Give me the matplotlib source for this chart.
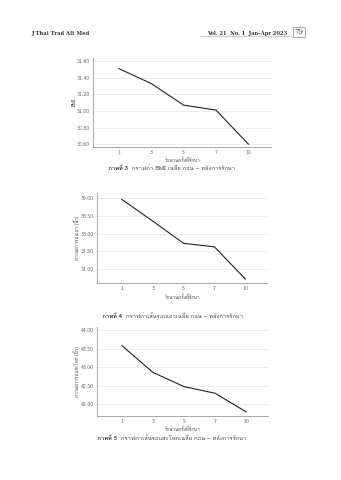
import matplotlib
matplotlib.use("Agg")
import matplotlib.pyplot as plt
from matplotlib import font_manager
from matplotlib.ft2font import FT2Font

# ---------------- data ----------------
sessions = ["1", "3", "5", "7", "10"]
bmi = [31.51, 31.33, 31.07, 31.01, 30.60]
waist = [38.97, 38.36, 37.73, 37.63, 36.72]
hip = [43.58, 42.86, 42.48, 42.30, 41.80]

bmi_ticks = [30.60, 30.80, 31.00, 31.20, 31.40, 31.60]
waist_ticks = [37.00, 37.50, 38.00, 38.50, 39.00]
hip_ticks = [42.00, 42.50, 43.00, 43.50, 44.00]

xlabel = "จำนวนครั้งที่รักษา"
ylabels = ["BMI", "ความยาวรอบเอว (นิ้ว)", "ความยาวรอบสะโพก (นิ้ว)"]
captions = [("ภาพที่ 3", "กราฟค่า BMI เฉลี่ย ก่อน – หลังการรักษา"),
            ("ภาพที่ 4", "กราฟค่าเส้นรอบเอวเฉลี่ย ก่อน – หลังการรักษา"),
            ("ภาพที่ 5", "กราฟค่าเส้นรอบสะโพกเฉลี่ย ก่อน – หลังการรักษา")]

# ---------------- font with Thai coverage ----------------
thai_family = None
for fe in font_manager.fontManager.ttflist:
    try:
        cm = FT2Font(fe.fname).get_charmap()
        if 0x0E01 in cm and 0x0E40 in cm:
            thai_family = fe.name
            break
    except Exception:
        pass
fams = ([thai_family] if thai_family else []) + ["DejaVu Sans"]
plt.rcParams["font.family"] = ["DejaVu Sans"] + ([thai_family] if thai_family else [])

W, H = 341, 480
fig = plt.figure(figsize=(W / 100, H / 100), dpi=100)
fig.patch.set_facecolor("white")

def px(x, y):
    return x / W, 1 - y / H

# axes boxes in pixel coords: left, right, top, bottom
boxes = [(93, 271, 57, 147), (97, 267, 193, 283), (97, 268, 327, 416)]
ylims = [(30.565, 31.65), (36.61, 39.15), (41.69, 44.08)]
series = [bmi, waist, hip]
ticks = [bmi_ticks, waist_ticks, hip_ticks]
ylab_x = [74, 77, 77]
xlab_y = [160, 297, 429]
cap_y = [168, 316, 438]

renderer = fig.canvas.get_renderer()
grey = "#9a9a9a"
for i in range(3):
    l, r, t, b = boxes[i]
    ax = fig.add_axes([l / W, 1 - b / H, (r - l) / W, (b - t) / H])
    xs = list(range(len(sessions)))
    ax.plot(xs, series[i], color="#222222", lw=0.8)
    ax.set_xlim(-0.8, 4.7)
    ax.set_ylim(*ylims[i])
    ax.set_xticks(xs)
    ax.set_xticklabels(sessions)
    ax.set_yticks(ticks[i])
    ax.set_yticklabels([f"{v:.2f}" for v in ticks[i]])
    ax.tick_params(length=0, labelsize=3.3, colors="#666666", pad=2.5)
    ax.tick_params(axis="x", pad=2.0)
    ax.grid(axis="y", color="#e6e6e6", lw=0.5)
    ax.set_axisbelow(True)
    for s in ["top", "right"]:
        ax.spines[s].set_visible(False)
    for s in ["left", "bottom"]:
        ax.spines[s].set_color(grey)
        ax.spines[s].set_linewidth(0.6)
    # y label
    cx, cy = px(ylab_x[i], (t + b) / 2)
    fig.text(cx, cy, ylabels[i], rotation=90, ha="center", va="center",
             fontsize=3.3, color="#444444", family=fams)
    # x label
    cx, cy = px(183, xlab_y[i])
    fig.text(cx, cy, xlabel, ha="center", va="center", fontsize=3.3,
             color="#444444", family=fams)
    # caption: bold label + normal text, centred as a whole
    bold, rest = captions[i]
    t1 = fig.text(0, 0, bold + "  ", fontsize=4.2, fontweight="bold",
                  color="#333333", family=fams, va="center")
    t2 = fig.text(0, 0, rest, fontsize=4.2, color="#444444", family=fams,
                  va="center")
    w1 = t1.get_window_extent(renderer).width
    w2 = t2.get_window_extent(renderer).width
    x0 = 172 - (w1 + w2) / 2
    t1.set_position(px(x0, cap_y[i]))
    t2.set_position(px(x0 + w1, cap_y[i]))

# header
fig.text(31 / W, 1 - 33 / H, "J Thai Trad Alt Med", ha="left", va="center",
         fontsize=3.8, fontweight="bold", family="DejaVu Serif", color="#333333")
fig.text(287 / W, 1 - 33 / H, "Vol. 21  No. 1  Jan–Apr 2023", ha="right", va="center",
         fontsize=3.7, fontweight="bold", family="DejaVu Serif", color="#333333")
fig.text(299 / W, 1 - 32 / H, "79", ha="center", va="center",
         fontsize=5, family="DejaVu Serif", color="#555555",
         bbox=dict(boxstyle="square,pad=0.15", fc="white", ec="#888888", lw=0.5))
fig.add_artist(plt.Line2D([200 / W, 291 / W], [1 - 36 / H, 1 - 36 / H],
                          color="#cccccc", lw=0.8))

fig.savefig("out.png", dpi=100, facecolor="white")
